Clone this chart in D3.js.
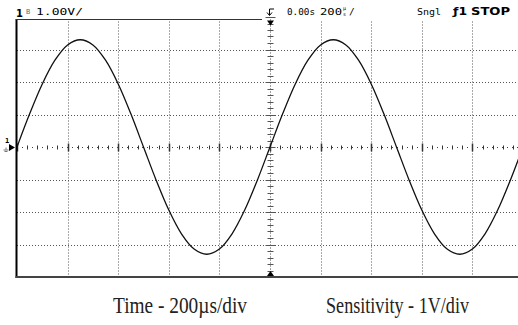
<!DOCTYPE html>
<html><head><meta charset="utf-8">
<script src="https://cdn.jsdelivr.net/npm/d3@7"></script>
<style>html,body{margin:0;padding:0;background:#fff;}svg{display:block;}</style>
</head><body><svg id="c" width="518" height="325"></svg>
<script>
// time axis in microseconds (trigger at 0), 200 us/div
const timeTicks = [-1000,-800,-600,-400,-200,0,200,400,600,800,1000];
// volts, 1 V/div
const voltTicks = [-4,-3,-2,-1,0,1,2,3,4];
// trace samples every 50 us
const sampleTimes = [-1000,-950,-900,-850,-800,-750,-700,-650,-600,-550,-500,-450,-400,-350,-300,-250,-200,-150,-100,-50,
  0,50,100,150,200,250,300,350,400,450,500,550,600,650,700,750,800,850,900,950,1000];
const sampleVolts = [0,1.02,1.94,2.67,3.14,3.30,3.14,2.67,1.94,1.02,0,-1.02,-1.94,-2.67,-3.14,-3.30,-3.14,-2.67,-1.94,-1.02,
  0,1.02,1.94,2.67,3.14,3.30,3.14,2.67,1.94,1.02,0,-1.02,-1.94,-2.67,-3.14,-3.30,-3.14,-2.67,-1.94,-1.02,0];
const headerLeft = "1.00V/";
const headerTime = "0.00s";
const headerDiv = "200";
const captionTime = "Time - 200\u00b5s/div";
const captionSens = "Sensitivity - 1V/div";

(function(){
const svg = d3.select("#c");
const x = d3.scaleLinear().domain([-1000,1000]).range([17,523]);
const y = d3.scaleLinear().domain([-4,4]).range([277,17]);
const T = 19.5, B = 277, L = 17, R = 518;

const g = svg.append("g");
// dotted grid
g.selectAll("line.vg").data(timeTicks.filter(t=>t!==0 && t>-1000 && t<1000)).join("line")
  .attr("x1",d=>Math.round(x(d))+0.5).attr("x2",d=>Math.round(x(d))+0.5)
  .attr("y1",T+2).attr("y2",B)
  .attr("stroke","#555").attr("stroke-width",1).attr("stroke-dasharray","1,2");
g.selectAll("line.hg").data(voltTicks.filter(v=>v!==0 && Math.abs(v)<4)).join("line")
  .attr("x1",L).attr("x2",R)
  .attr("y1",d=>Math.round(y(d))+0.5).attr("y2",d=>Math.round(y(d))+0.5)
  .attr("stroke","#555").attr("stroke-width",1).attr("stroke-dasharray","1,2");

// center horizontal axis with ticks
const cy = Math.round(y(0))+0.5;
g.append("line").attr("x1",L).attr("x2",R).attr("y1",cy).attr("y2",cy)
  .attr("stroke","#444").attr("stroke-dasharray","1,4");
const minorT = d3.range(-1000,1001,40);
g.selectAll("line.ht").data(minorT).join("line")
  .attr("x1",d=>Math.round(x(d))+0.5).attr("x2",d=>Math.round(x(d))+0.5)
  .attr("y1",d=>cy-(d%200===0?4:2)).attr("y2",d=>cy+(d%200===0?4:2))
  .attr("stroke","#333").attr("stroke-width",d=>d%200===0?1.5:1);
// center vertical axis with ticks
const cx = Math.round(x(0))+0.5;
g.append("line").attr("x1",cx).attr("x2",cx).attr("y1",T).attr("y2",B)
  .attr("stroke","#444").attr("stroke-dasharray","1,2");
const minorV = d3.range(-20,21).map(i=>i/5);
g.selectAll("line.vt").data(minorV).join("line")
  .attr("y1",d=>Math.round(y(d))+0.5).attr("y2",d=>Math.round(y(d))+0.5)
  .attr("x1",d=>cx-(Math.abs(d%1)<1e-9?5:3)).attr("x2",d=>cx+(Math.abs(d%1)<1e-9?5:3))
  .attr("stroke","#555").attr("stroke-width",1);

// borders
g.append("line").attr("x1",L-0.5).attr("x2",L-0.5).attr("y1",T).attr("y2",B+1)
  .attr("stroke","#000").attr("stroke-width",2);
g.append("line").attr("x1",L-1.5).attr("x2",262).attr("y1",T).attr("y2",T)
  .attr("stroke","#333").attr("stroke-width",1);
g.append("line").attr("x1",L-1.5).attr("x2",R).attr("y1",B).attr("y2",B)
  .attr("stroke","#444").attr("stroke-width",2);

// trigger markers
g.append("path").attr("d",`M${cx-3.5},${T+1}L${cx+3.5},${T+1}L${cx},${T+6}Z`).attr("fill","#000");
g.append("path").attr("d",`M${cx-3.5},${B-1}L${cx+3.5},${B-1}L${cx},${B-6}Z`).attr("fill","#000");

// trace
const line = d3.line().x(d=>x(d[0])).y(d=>y(d[1])).curve(d3.curveCatmullRom.alpha(0.5));
svg.append("defs").append("clipPath").attr("id","clip").append("rect")
  .attr("x",L).attr("y",T).attr("width",R-L).attr("height",B-T);
svg.append("path").datum(sampleTimes.map((t,i)=>[t,sampleVolts[i]]))
  .attr("d",line).attr("fill","none").attr("stroke","#111").attr("stroke-width",1.3)
  .attr("clip-path","url(#clip)");

// ground marker
svg.append("text").attr("x",5).attr("y",143).attr("font-family","DejaVu Sans Mono").attr("font-size",7).attr("font-weight","bold").text("1");
svg.append("path").attr("d",`M9,${cy-3.5}L15,${cy}L9,${cy+3.5}Z`).attr("fill","#000");
svg.append("path").attr("d",`M6,${cy}L6,${cy+2}M3.5,${cy+2.5}L8.5,${cy+2.5}M4.5,${cy+4}L7.5,${cy+4}`)
  .attr("stroke","#555").attr("stroke-width",0.8).attr("fill","none");

// header
const hf = "DejaVu Sans Mono";
svg.append("text").attr("x",16).attr("y",17).attr("font-family","DejaVu Sans").attr("font-weight","bold")
  .attr("font-size",10).text("1");
svg.append("text").attr("x",26).attr("y",14).attr("font-family",hf).attr("font-size",7).attr("fill","#666").text("B");
svg.append("text").attr("x",36).attr("y",15).attr("font-family",hf).attr("font-size",9.5)
  .attr("textLength",47).attr("lengthAdjust","spacingAndGlyphs").text(headerLeft);
// trigger level icon
svg.append("path").attr("d","M269.5,15L269.5,9L274,9M267,12.5L269.5,15.5L272,12.5").attr("stroke","#000")
  .attr("fill","none").attr("stroke-width",1);
svg.append("text").attr("x",287).attr("y",15).attr("font-family",hf).attr("font-size",9.5)
  .attr("textLength",28).attr("lengthAdjust","spacingAndGlyphs").text(headerTime);
svg.append("text").attr("x",320).attr("y",15).attr("font-family",hf).attr("font-size",9.5)
  .attr("textLength",22).attr("lengthAdjust","spacingAndGlyphs").text(headerDiv);
svg.append("text").attr("x",343).attr("y",9.5).attr("font-family",hf).attr("font-size",5).text("\u00b5");
svg.append("text").attr("x",343).attr("y",16).attr("font-family",hf).attr("font-size",5).text("s");
svg.append("text").attr("x",349).attr("y",15).attr("font-family",hf).attr("font-size",9.5).text("/");
svg.append("text").attr("x",417).attr("y",15).attr("font-family",hf).attr("font-size",9.5)
  .attr("textLength",24).attr("lengthAdjust","spacingAndGlyphs").text("Sngl");
svg.append("text").attr("x",453).attr("y",15).attr("font-family","DejaVu Sans").attr("font-weight","bold").attr("font-size",10)
  .attr("textLength",14).attr("lengthAdjust","spacingAndGlyphs").text("\u01921");
svg.append("text").attr("x",471).attr("y",15).attr("font-family","DejaVu Sans").attr("font-weight","bold").attr("font-size",10)
  .attr("textLength",39).attr("lengthAdjust","spacingAndGlyphs").text("STOP");

// captions
svg.append("text").attr("x",113).attr("y",313).attr("font-family","Liberation Serif").attr("font-size",22.5)
  .attr("fill","#222").attr("textLength",134).attr("lengthAdjust","spacingAndGlyphs").text(captionTime);
svg.append("text").attr("x",326).attr("y",313).attr("font-family","Liberation Serif").attr("font-size",22.5)
  .attr("fill","#222").attr("textLength",143).attr("lengthAdjust","spacingAndGlyphs").text(captionSens);
})();
</script></body></html>
